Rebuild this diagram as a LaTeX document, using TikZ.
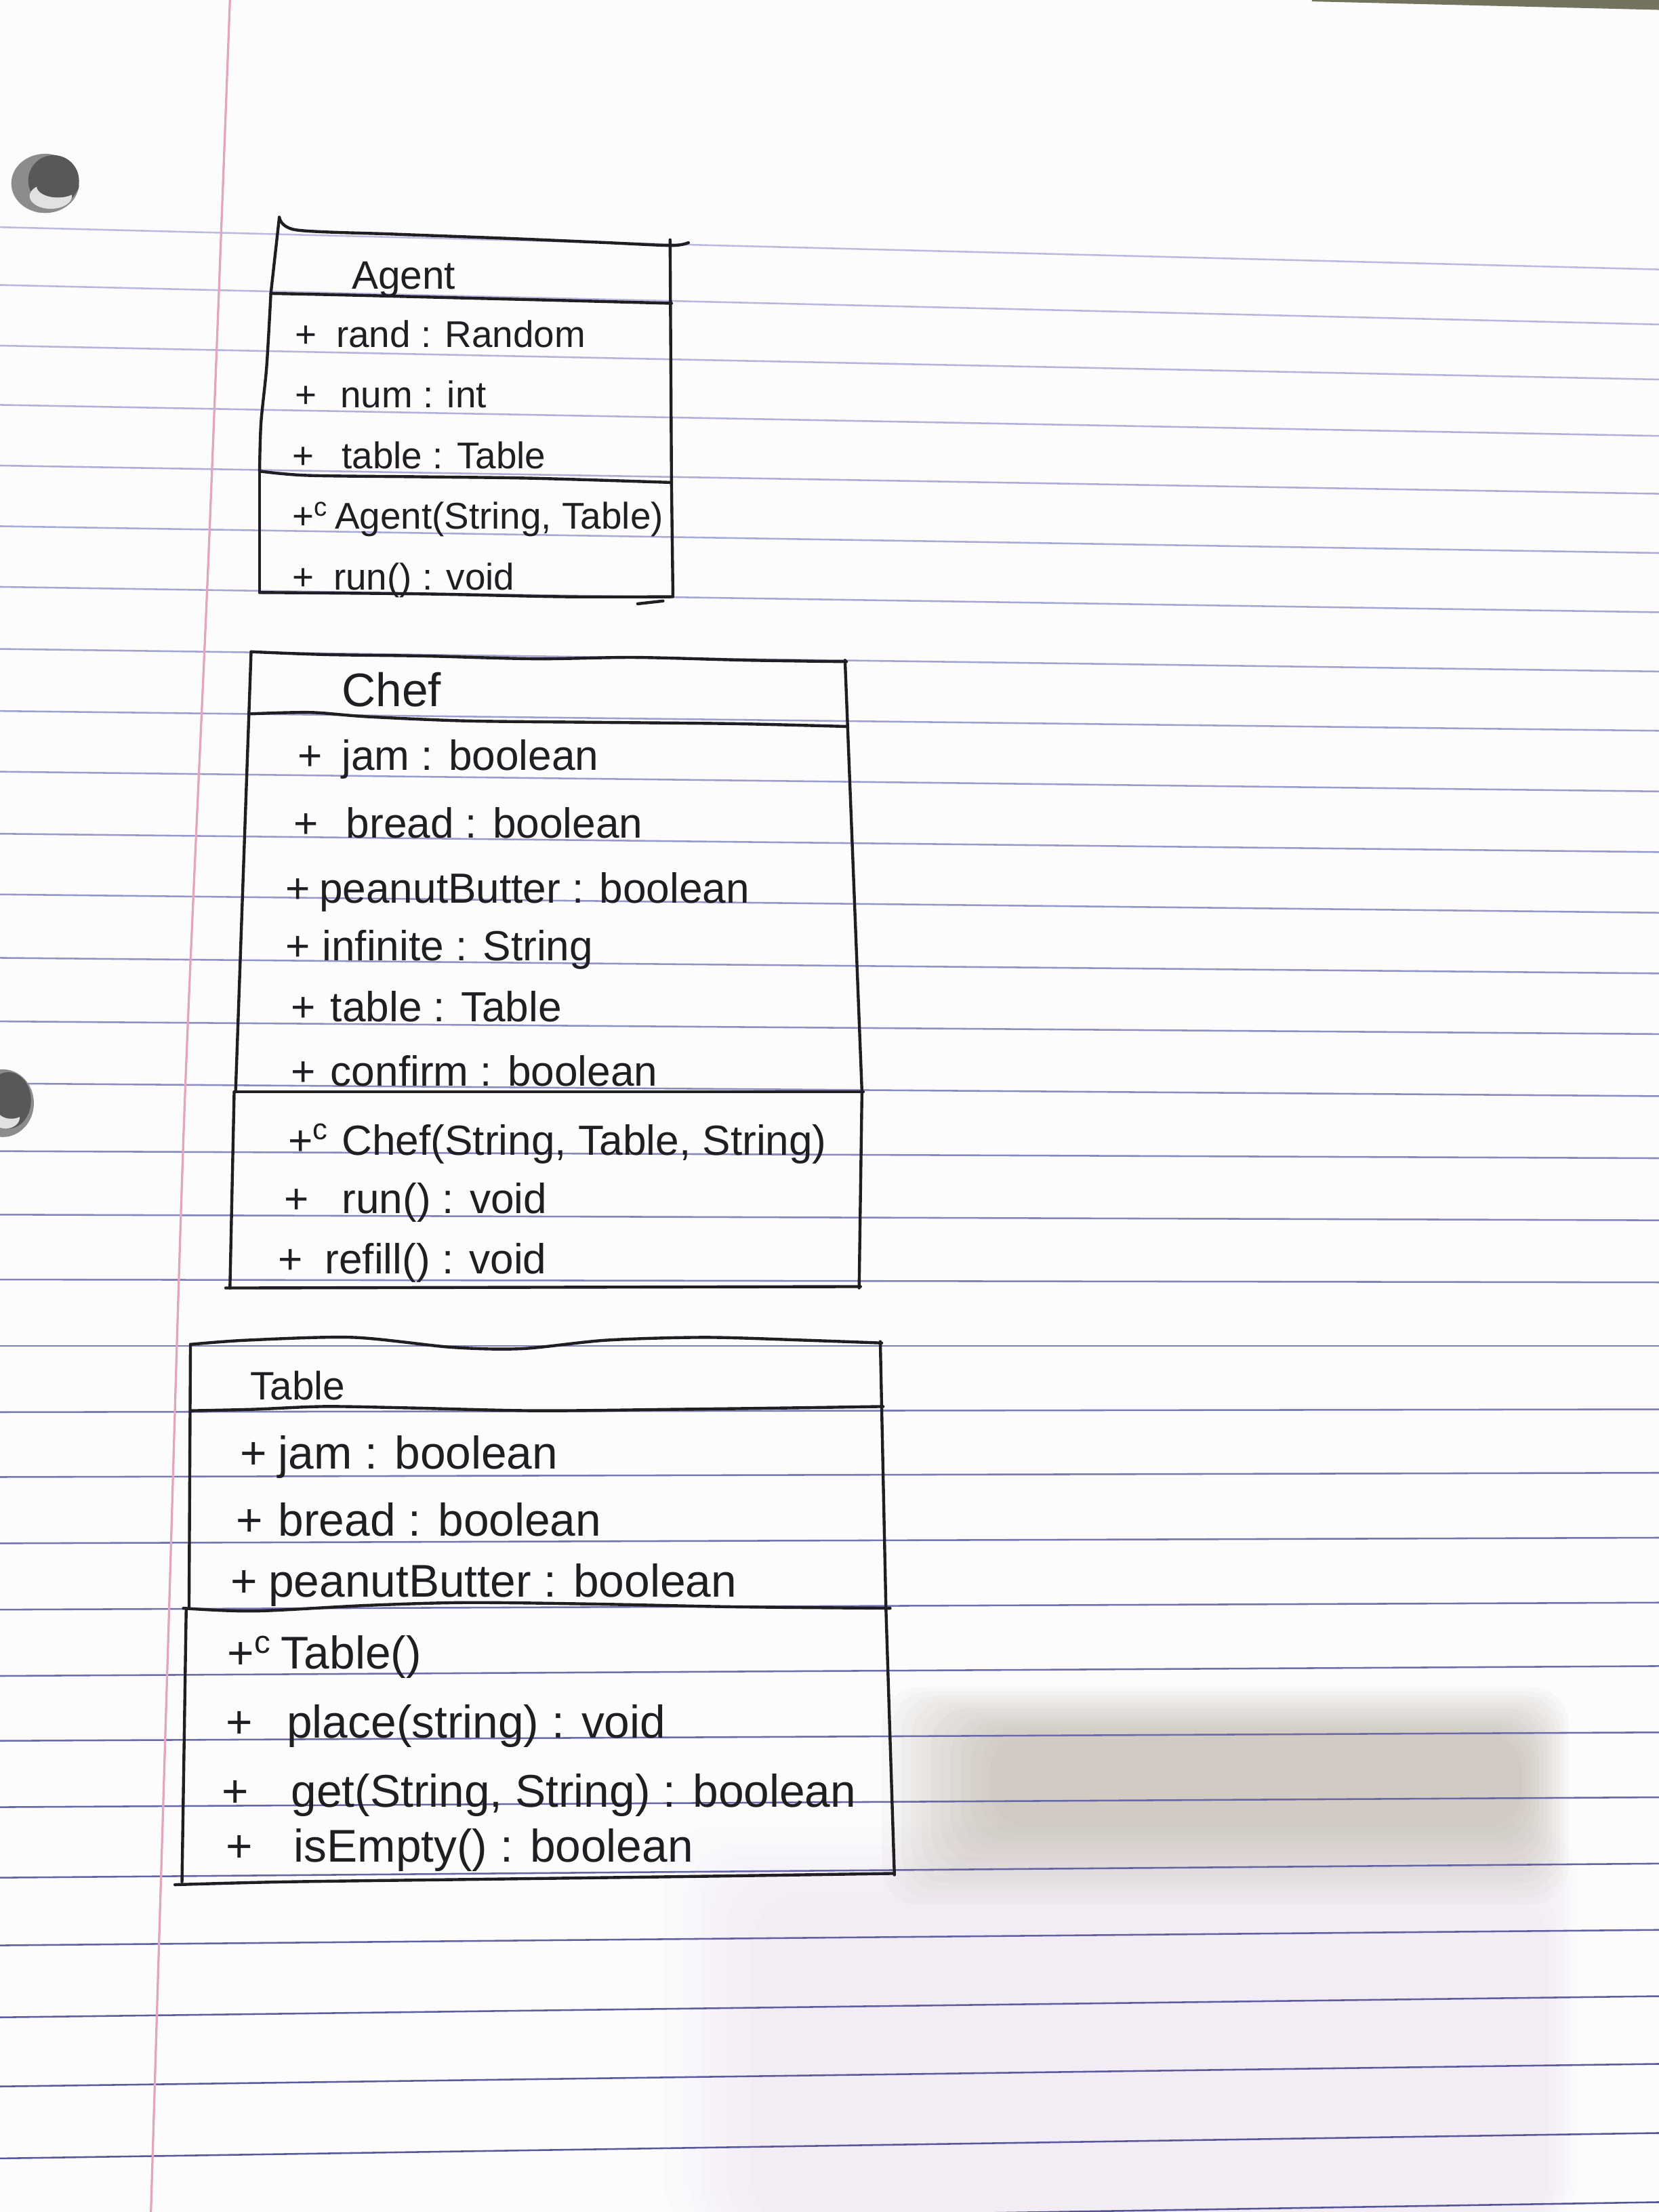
\documentclass[tikz,border=0pt]{standalone}
\usepackage{fontspec}
\setmainfont{Liberation Sans}

\definecolor{ink}{RGB}{32,30,34}
\definecolor{ruleLight}{RGB}{190,190,228}
\definecolor{ruleDark}{RGB}{80,80,150}
\definecolor{marginRed}{RGB}{228,165,190}
\definecolor{paper}{RGB}{252,252,253}
\definecolor{stain}{RGB}{170,155,140}
\definecolor{haze}{RGB}{222,200,225}
\definecolor{holeDark}{RGB}{88,88,90}
\definecolor{holeMid}{RGB}{140,140,142}
\definecolor{holeLight}{RGB}{225,225,225}
\definecolor{edgeShade}{RGB}{115,115,95}

\begin{document}
\begin{tikzpicture}[x=0.02cm, y=-0.02cm,
  pen/.style={draw=ink, line width=1.2pt, line cap=round, line join=round},
  ruled/.style={line width=0.7pt},
  memberA/.style={anchor=base west, inner sep=0pt, text=ink, font=\fontsize{15}{18}\selectfont},
  memberC/.style={anchor=base west, inner sep=0pt, text=ink, font=\fontsize{17}{20}\selectfont},
  memberT/.style={anchor=base west, inner sep=0pt, text=ink, font=\fontsize{18.5}{22}\selectfont},
]
\useasboundingbox (0,0) rectangle (1176,1568);
\clip (0,0) rectangle (1176,1568);
\fill[paper] (0,0) rectangle (1176,1568);

% discoloured patch in the lower right of the sheet (layered for soft edges)
\foreach \k in {0,...,7} {
  \fill[haze, opacity=0.035, rounded corners=20] (470+9*\k,1295+7*\k) rectangle (1118-3*\k,1580);
}
\foreach \k in {0,...,11} {
  \fill[stain, opacity=0.05, rounded corners=15] (625+7*\k,1196+3*\k) rectangle (1112-3*\k,1350-5*\k);
}

% ruled lines of the notebook page
\foreach \ya/\yb [count=\i] in {161/191,202/230,245/269,287/309,330/350,373/392,416/434,460/476,
  504/518,547/561,591/604,634/647,679/690,724/733,768/777,816/821,861/865,907/909,954/954,
  1001/999,1047/1044,1094/1090,1141/1136,1188/1181,1234/1228,1281/1274,1331/1321,1379/1368,
  1430/1415,1479/1463,1530/1512,1580/1561} {
  \pgfmathtruncatemacro{\mix}{100-3*\i}
  \draw[ruled, color=ruleLight!\mix!ruleDark] (0,\ya) -- (1176,\yb);
}

% margin line
\draw[marginRed, line width=0.9pt] plot[smooth] coordinates {(163,0) (148,390) (131,780) (119,1170) (107,1568)};

% punched holes
\fill[holeMid] (32,130) ellipse [x radius=24, y radius=21];
\fill[holeDark] (38,128) ellipse [x radius=18, y radius=18];
\fill[holeLight] (36,139) ellipse [x radius=15, y radius=9];
\fill[holeDark] (41,132) ellipse [x radius=15, y radius=8];
\fill[holeMid] (2,782) ellipse [x radius=22, y radius=24];
\fill[holeDark] (6,780) ellipse [x radius=16, y radius=20];
\fill[holeLight] (4,792) ellipse [x radius=10, y radius=8];
\fill[holeDark] (8,786) ellipse [x radius=10, y radius=7];

% shadow along the top edge
\fill[edgeShade] (930,0) -- (1176,0) -- (1176,7) -- (930,1) -- cycle;

% ---------- class Agent ----------
\draw[pen] plot[smooth] coordinates {(198,154) (210,163) (280,166) (360,169) (430,172) (476,174) (488,172)};
\draw[pen] (198,154) -- (192,208);
\draw[pen] plot[smooth] coordinates {(192,208) (240,209) (320,211) (400,213) (476,215)};
\draw[pen] plot[smooth] coordinates {(192,208) (189,260) (185,300) (184,334)};
\draw[pen] (475,170) -- (476,342);
\draw[pen] plot[smooth] coordinates {(184,334) (218,337) (300,338) (377,339) (476,342)};
\draw[pen] (184,334) -- (184,420);
\draw[pen] (476,342) -- (477,422);
\draw[pen] plot[smooth] coordinates {(184,420) (300,421) (400,423) (477,423)};
\draw[pen] (452,428) -- (470,426);

\node[memberA, font=\fontsize{16}{19}\selectfont] (agentName) at (249,205) {Agent};
\node[memberA] (agentP1) at (209,246) {+};
\node[memberA] (agentA1) at (238,246) {rand : Random};
\node[memberA] (agentP2) at (209,289) {+};
\node[memberA] (agentA2) at (241,289) {num : int};
\node[memberA] (agentP3) at (207,332) {+};
\node[memberA] (agentA3) at (242,332) {table : Table};
\node[memberA] (agentP4) at (207,375) {+\textsuperscript{c}};
\node[memberA] (agentM1) at (237,375) {Agent(String, Table)};
\node[memberA] (agentP5) at (207,418) {+};
\node[memberA] (agentM2) at (236,418) {run() : void};

% ---------- class Chef ----------
\draw[pen] plot[smooth] coordinates {(178,462) (230,464) (300,465) (380,467) (450,466) (530,468) (600,469)};
\draw[pen] (178,462) -- (167,774);
\draw[pen] (599,468) -- (611,774);
\draw[pen] plot[smooth] coordinates {(178,506) (220,505) (260,508) (330,511) (420,512) (520,513) (601,515)};
\draw[pen] (166,774) -- (612,774);
\draw[pen] (166,774) -- (163,913);
\draw[pen] (611,774) -- (609,913);
\draw[pen] (160,913) -- (610,912);

\node[memberC, font=\fontsize{19}{22}\selectfont] (chefName) at (242,501) {Chef};
\node[memberC] (chefP1) at (211,546) {+};
\node[memberC] (chefA1) at (242,546) {jam : boolean};
\node[memberC] (chefP2) at (208,594) {+};
\node[memberC] (chefA2) at (245,594) {bread : boolean};
\node[memberC] (chefP3) at (202,640) {+};
\node[memberC] (chefA3) at (226,640) {peanutButter : boolean};
\node[memberC] (chefP4) at (202,681) {+};
\node[memberC] (chefA4) at (228,681) {infinite : String};
\node[memberC] (chefP5) at (206,724) {+};
\node[memberC] (chefA5) at (234,724) {table : Table};
\node[memberC] (chefP6) at (206,770) {+};
\node[memberC] (chefA6) at (234,770) {confirm : boolean};
\node[memberC] (chefP7) at (204,819) {+\textsuperscript{c}};
\node[memberC] (chefM1) at (242,819) {Chef(String, Table, String)};
\node[memberC] (chefP8) at (201,860) {+};
\node[memberC] (chefM2) at (242,860) {run() : void};
\node[memberC] (chefP9) at (197,903) {+};
\node[memberC] (chefM3) at (230,903) {refill() : void};

% ---------- class Table ----------
\draw[pen] plot[smooth] coordinates {(135,953) (175,950) (250,948) (320,955) (370,956) (430,950) (500,948) (570,950) (625,952)};
\draw[pen] (135,953) -- (134,1140);
\draw[pen] (624,951) -- (628,1140) -- (634,1329);
\draw[pen] plot[smooth] coordinates {(135,1000) (180,999) (230,997) (290,998) (380,1000) (480,999) (560,998) (626,997)};
\draw[pen] plot[smooth] coordinates {(130,1140) (180,1142) (260,1138) (330,1136) (420,1137) (520,1139) (631,1140)};
\draw[pen] (132,1140) -- (129,1334);
\draw[pen] plot[smooth] coordinates {(124,1336) (200,1334) (350,1332) (500,1330) (634,1328)};

\node[memberT, font=\fontsize{16}{19}\selectfont] (tableName) at (177,992) {Table};
\node[memberT] (tableP1) at (170,1041) {+};
\node[memberT] (tableA1) at (197,1041) {jam : boolean};
\node[memberT] (tableP2) at (167,1089) {+};
\node[memberT] (tableA2) at (197,1089) {bread : boolean};
\node[memberT] (tableP3) at (163,1132) {+};
\node[memberT] (tableA3) at (190,1132) {peanutButter : boolean};
\node[memberT] (tableP4) at (161,1183) {+\textsuperscript{c}};
\node[memberT] (tableM1) at (199,1183) {Table()};
\node[memberT] (tableP5) at (160,1232) {+};
\node[memberT] (tableM2) at (203,1232) {place(string) : void};
\node[memberT] (tableP6) at (157,1281) {+};
\node[memberT] (tableM3) at (206,1281) {get(String, String) : boolean};
\node[memberT] (tableP7) at (160,1320) {+};
\node[memberT] (tableM4) at (208,1320) {isEmpty() : boolean};
\end{tikzpicture}
\end{document}
